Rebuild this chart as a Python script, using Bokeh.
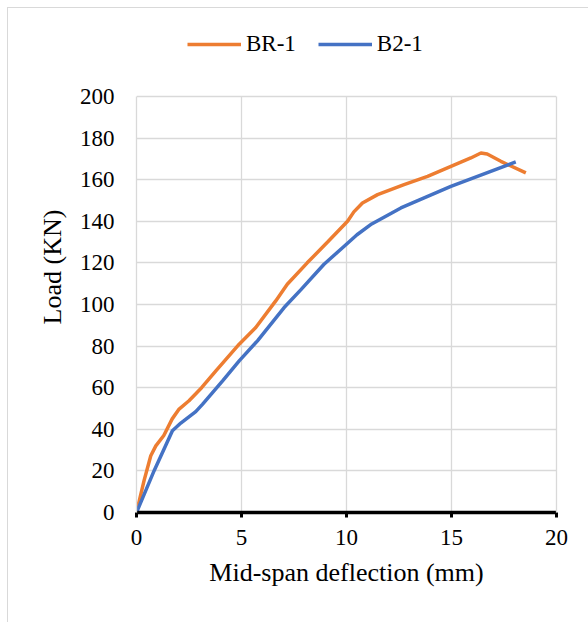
from bokeh.plotting import figure
from bokeh.models import Legend, LegendItem, Range1d, BoxAnnotation, LinearAxis, FixedTicker
from bokeh.embed import file_html
from bokeh.resources import INLINE

# Data
br1_x = [0, 0.36, 0.68, 0.92, 1.3, 1.7, 2.03, 2.5, 3.1, 3.78, 4.89, 5.68, 6.63, 7.18, 8.13, 9.1,
         10.05, 10.35, 10.76, 11.48, 12.74, 13.86, 15.92, 16.4, 16.7, 17.35, 18.54]
br1_y = [0, 15.3, 27.3, 32, 37, 45, 49.7, 53.7, 60, 68.1, 80.9, 88.9, 101.7, 109.7, 120, 130,
         140, 144.5, 148.8, 152.8, 157.6, 161.6, 170.4, 172.8, 172.3, 168.8, 163.2]

b21_x = [0, 0.84, 1.71, 2.11, 2.82, 3.14, 4.1, 4.89, 5.76, 7.03, 7.82, 8.93, 9.89, 10.5,
         11.2, 12.59, 14.97, 18.06]
b21_y = [0, 20.1, 39.3, 43, 48.5, 52, 63.3, 72.9, 82.5, 98.5, 107, 119.3, 128, 133.5,
         138.7, 146.4, 156.8, 168.5]

x_ticks = [0, 5, 10, 15, 20]
y_ticks = [0, 20, 40, 60, 80, 100, 120, 140, 160, 180, 200]
y_max = 200

FONT = "Liberation Serif"
GRID = "#d9d9d9"

# frame extends above the 200 line to leave room for the legend
p = figure(width=581, height=615, output_backend="svg", toolbar_location=None,
           x_range=Range1d(0, 20), y_range=Range1d(0, 236),
           min_border_left=128, min_border_right=33, min_border_top=13,
           min_border_bottom=111)
p.margin = (7, 0, 0, 7)
p.styles = {"border-left": "1px solid #d9d9d9", "border-top": "1px solid #d9d9d9"}
p.background_fill_color = "white"
p.border_fill_color = "white"
p.outline_line_color = None

r1 = p.line(br1_x, br1_y, line_color="#ED7D31", line_width=3.5)
r2 = p.line(b21_x, b21_y, line_color="#4472C4", line_width=3.5)

# grid
p.xgrid.ticker = x_ticks
p.ygrid.ticker = y_ticks
p.xgrid.grid_line_color = GRID
p.ygrid.grid_line_color = GRID
p.xgrid.grid_line_width = 1.3
p.ygrid.grid_line_width = 1.3
if "cross_bounds" in p.xgrid[0].properties():
    p.xgrid.cross_bounds = (0, y_max)
else:
    p.add_layout(BoxAnnotation(bottom=y_max + 0.4, fill_color="white", fill_alpha=1,
                               line_color=None, level="underlay"))

# x axis
xa = p.xaxis[0]
xa.ticker = x_ticks
xa.axis_line_color = "black"
xa.axis_line_width = 3.5
xa.major_tick_line_color = "black"
xa.major_tick_line_width = 3
xa.major_tick_out = 5
xa.major_tick_in = 0
xa.minor_tick_line_color = None
xa.major_label_text_font = FONT
xa.major_label_text_font_size = "23px"
xa.major_label_text_color = "black"
xa.major_label_standoff = 12
xa.axis_label = "Mid-span deflection (mm)"
xa.axis_label_text_font = FONT
xa.axis_label_text_font_size = "26px"
xa.axis_label_text_font_style = "normal"
xa.axis_label_text_color = "black"
xa.axis_label_standoff = 10

# y axis (its line forms the left edge of the plot area)
ya = p.yaxis[0]
ya.ticker = y_ticks
ya.bounds = (0, y_max)
ya.axis_line_color = GRID
ya.axis_line_width = 1.3
ya.major_tick_line_color = None
ya.minor_tick_line_color = None
ya.major_tick_out = 0
ya.major_tick_in = 0
ya.major_label_text_font = FONT
ya.major_label_text_font_size = "23px"
ya.major_label_text_color = "black"
ya.major_label_standoff = 22
ya.axis_label = "Load (KN)"
ya.axis_label_text_font = FONT
ya.axis_label_text_font_size = "26px"
ya.axis_label_text_font_style = "normal"
ya.axis_label_text_color = "black"
ya.axis_label_standoff = 10

# right edge of the plot area
ra = LinearAxis(ticker=FixedTicker(ticks=[]), bounds=(0, y_max),
                axis_line_color=GRID, axis_line_width=1.3,
                major_tick_line_color=None, minor_tick_line_color=None,
                major_tick_out=0, major_tick_in=0, major_label_standoff=0)
p.add_layout(ra, "right")

legend = Legend(items=[LegendItem(label="BR-1", renderers=[r1]),
                       LegendItem(label="B2-1", renderers=[r2])],
                location=(51, 455), orientation="horizontal",
                border_line_color=None, background_fill_alpha=0,
                padding=0, margin=0, spacing=22, glyph_width=54, glyph_height=20,
                label_standoff=5, label_text_font=FONT, label_text_font_size="23px",
                label_text_color="black")
p.add_layout(legend)

open("out.html", "w").write(file_html(p, INLINE))
